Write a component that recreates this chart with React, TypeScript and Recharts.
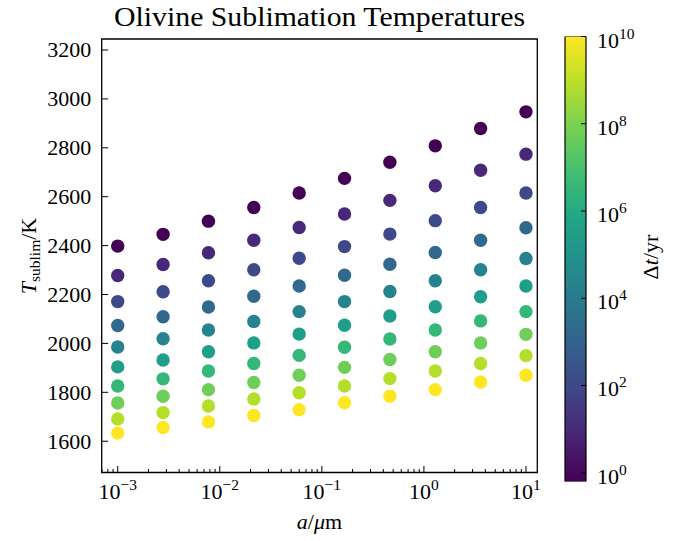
import React from 'react';
import { Bar, BarChart, Label, ReferenceArea, Scatter, ScatterChart, XAxis, YAxis } from 'recharts';

// grain radius a [µm], one column of dots per size
const GRAIN_SIZES = [1e-3, 2.783e-3, 7.743e-3, 2.154e-2, 5.995e-2, 0.1668, 0.4642, 1.292, 3.594, 10];

// exposure time Δt [yr], one row of dots per duration
const DURATIONS = [1, 12.9, 167, 2154, 2.78e4, 3.59e5, 4.64e6, 5.99e7, 7.74e8, 1e10];

// viridis sampled at the ten durations
const DURATION_COLORS = [
  '#440154', '#482878', '#3e4989', '#31688e', '#26828e',
  '#1f9e89', '#35b779', '#6ece58', '#b5de2b', '#fde725',
];

// sublimation temperature [K], rows follow DURATIONS, columns follow GRAIN_SIZES
const T_SUBLIM = [
  [2398, 2446, 2500, 2556, 2615, 2675, 2741, 2808, 2879, 2947],
  [2278, 2323, 2371, 2422, 2474, 2529, 2585, 2645, 2708, 2774],
  [2171, 2211, 2256, 2301, 2348, 2396, 2447, 2502, 2556, 2615],
  [2073, 2109, 2149, 2193, 2235, 2279, 2324, 2372, 2422, 2473],
  [1985, 2019, 2055, 2090, 2130, 2171, 2212, 2256, 2301, 2347],
  [1904, 1932, 1966, 2002, 2038, 2074, 2112, 2150, 2191, 2235],
  [1826, 1855, 1887, 1918, 1951, 1984, 2018, 2055, 2092, 2130],
  [1756, 1784, 1811, 1840, 1870, 1902, 1934, 1966, 2002, 2037],
  [1691, 1717, 1744, 1773, 1798, 1826, 1856, 1887, 1918, 1950],
  [1633, 1656, 1679, 1705, 1729, 1757, 1784, 1811, 1842, 1870],
];

const Y_TICKS = [1600, 1800, 2000, 2200, 2400, 2600, 2800, 3000, 3200];
const CBAR_TICKS = [1, 1e2, 1e4, 1e6, 1e8, 1e10];

const VIRIDIS_STOPS = [
  '#440154', '#482475', '#414487', '#355f8d', '#2a788e', '#21918c',
  '#22a884', '#44bf70', '#7ad151', '#bddf26', '#fde725',
];

const X_DOMAIN: [number, number] = [Math.pow(10, -3.157), Math.pow(10, 1.111)];
const Y_DOMAIN: [number, number] = [1472, 3245];
// the bar runs a little below 10^0 in the original
const CBAR_DOMAIN: [number, number] = [0.63, 1e10];

const FONT = "'Liberation Serif', 'DejaVu Serif', serif";

// major + minor log ticks inside the x domain
const X_TICKS: number[] = [];
for (let d = -4; d <= 1; d++) {
  for (let k = 1; k <= 9; k++) {
    const v = k * Math.pow(10, d);
    if (v >= X_DOMAIN[0] && v <= X_DOMAIN[1]) X_TICKS.push(v);
  }
}

const series = DURATIONS.map((dt, i) => ({
  dt,
  color: DURATION_COLORS[i],
  points: GRAIN_SIZES.map((a, j) => ({ a, T: T_SUBLIM[i][j] })),
}));

function expLabel(v: number) {
  const e = Math.round(Math.log10(v));
  return e < 0 ? `\u2212${-e}` : `${e}`;
}

function isMajor(v: number) {
  const l = Math.log10(v);
  return Math.abs(l - Math.round(l)) < 1e-6;
}

// ticks point into the plot, like the matplotlib original
function XTick(props: any) {
  const { x, y, payload } = props;
  const v = payload.value as number;
  const major = isMajor(v);
  const axisY = y - 8;
  return (
    <g>
      <line x1={x} x2={x} y1={axisY} y2={axisY - (major ? 6.5 : 3.5)} stroke="#000" strokeWidth={1} />
      {major && (
        <text x={x} y={axisY + 26.5} textAnchor="middle" fontFamily={FONT} fontSize={22} fill="#000">
          10
          <tspan dy={-9} fontSize={15.5}>{expLabel(v)}</tspan>
        </text>
      )}
    </g>
  );
}

function YTick(props: any) {
  const { x, y, payload } = props;
  const axisX = x + 8;
  return (
    <g>
      <line x1={axisX} x2={axisX + 6.5} y1={y} y2={y} stroke="#000" strokeWidth={1} />
      <text x={axisX - 10.5} y={y} dy="0.34em" textAnchor="end" fontFamily={FONT} fontSize={22} fill="#000">
        {payload.value}
      </text>
    </g>
  );
}

// label box (digits + raised exponent) is centred on the tick
function CbarTick(props: any) {
  const { x, y, payload } = props;
  const axisX = x - 8;
  return (
    <g>
      <line x1={axisX} x2={axisX - 5} y1={y} y2={y} stroke="#000" strokeWidth={1} />
      <text x={axisX + 11} y={y + 11} fontFamily={FONT} fontSize={22} fill="#000">
        10
        <tspan dy={-9} fontSize={15.5}>{expLabel(payload.value)}</tspan>
      </text>
    </g>
  );
}

function Dot(props: any) {
  const { cx, cy, fill } = props;
  if (cx == null || cy == null) return null;
  return <circle cx={cx} cy={cy} r={6.7} fill={fill} />;
}

export default function App() {
  return (
    <div style={{ position: 'absolute', left: 0, top: 0, width: 688, height: 541, background: '#fff' }}>
      <div style={{ position: 'absolute', left: 0, top: 0 }}>
        <ScatterChart width={560} height={541} margin={{ top: 39, right: 22.7, left: 41.7, bottom: 28.5 }}>
          <text
            x={319.5}
            y={26}
            textAnchor="middle"
            fontFamily={FONT}
            fontSize={27}
            textLength={411}
            lengthAdjust="spacingAndGlyphs"
            fill="#000"
          >
            Olivine Sublimation Temperatures
          </text>
          <XAxis
            type="number"
            dataKey="a"
            scale="log"
            domain={X_DOMAIN}
            allowDataOverflow
            ticks={X_TICKS}
            interval={0}
            height={40}
            axisLine={false}
            tickLine={false}
            tickSize={6}
            tickMargin={2}
            tick={<XTick />}
          >
            <Label
              content={() => (
                <text x={319.5} y={529} textAnchor="middle" fontFamily={FONT} fontSize={22} fill="#000">
                  <tspan fontStyle="italic">a</tspan>/<tspan fontStyle="italic">μ</tspan>m
                </text>
              )}
            />
          </XAxis>
          <YAxis
            type="number"
            dataKey="T"
            domain={Y_DOMAIN}
            allowDataOverflow
            ticks={Y_TICKS}
            interval={0}
            width={60}
            axisLine={false}
            tickLine={false}
            tickSize={6}
            tickMargin={2}
            tick={<YTick />}
          >
            <Label
              content={() => (
                <text
                  x={35.5}
                  y={256}
                  transform="rotate(-90, 35.5, 256)"
                  textAnchor="middle"
                  fontFamily={FONT}
                  fontSize={22}
                  fill="#000"
                >
                  <tspan fontStyle="italic">T</tspan>
                  <tspan dy={4} fontSize={15.5}>sublim</tspan>
                  <tspan dy={-4}>/K</tspan>
                </text>
              )}
            />
          </YAxis>
          {series.map((s) => (
            <Scatter
              key={s.dt}
              data={s.points}
              fill={s.color}
              shape={<Dot />}
              isAnimationActive={false}
            />
          ))}
          <ReferenceArea
            x1={X_DOMAIN[0]}
            x2={X_DOMAIN[1]}
            y1={Y_DOMAIN[0]}
            y2={Y_DOMAIN[1]}
            fill="none"
            stroke="#000"
            strokeWidth={1.3}
            ifOverflow="visible"
          />
        </ScatterChart>
      </div>

      <div style={{ position: 'absolute', left: 540, top: 0 }}>
        <BarChart
          width={148}
          height={541}
          data={[{ name: 'dt', span: CBAR_DOMAIN }]}
          margin={{ top: 36.5, right: 42, left: 25, bottom: 59.5 }}
          barCategoryGap={0}
        >
          <defs>
            <linearGradient id="viridisGrad" x1="0" y1="1" x2="0" y2="0">
              {VIRIDIS_STOPS.map((c, i) => (
                <stop key={c} offset={`${i * 10}%`} stopColor={c} />
              ))}
            </linearGradient>
          </defs>
          <XAxis dataKey="name" hide />
          <YAxis
            orientation="right"
            type="number"
            scale="log"
            domain={CBAR_DOMAIN}
            allowDataOverflow
            ticks={CBAR_TICKS}
            interval={0}
            width={60}
            axisLine={false}
            tickLine={false}
            tickSize={6}
            tickMargin={2}
            tick={<CbarTick />}
          >
            <Label
              content={() => (
                <text
                  x={118}
                  y={257}
                  transform="rotate(-90, 118, 257)"
                  textAnchor="middle"
                  fontFamily={FONT}
                  fontSize={22}
                  fill="#000"
                >
                  Δ<tspan fontStyle="italic">t</tspan>/yr
                </text>
              )}
            />
          </YAxis>
          <Bar dataKey="span" fill="url(#viridisGrad)" stroke="#000" strokeWidth={1.2} isAnimationActive={false} />
        </BarChart>
      </div>
    </div>
  );
}
